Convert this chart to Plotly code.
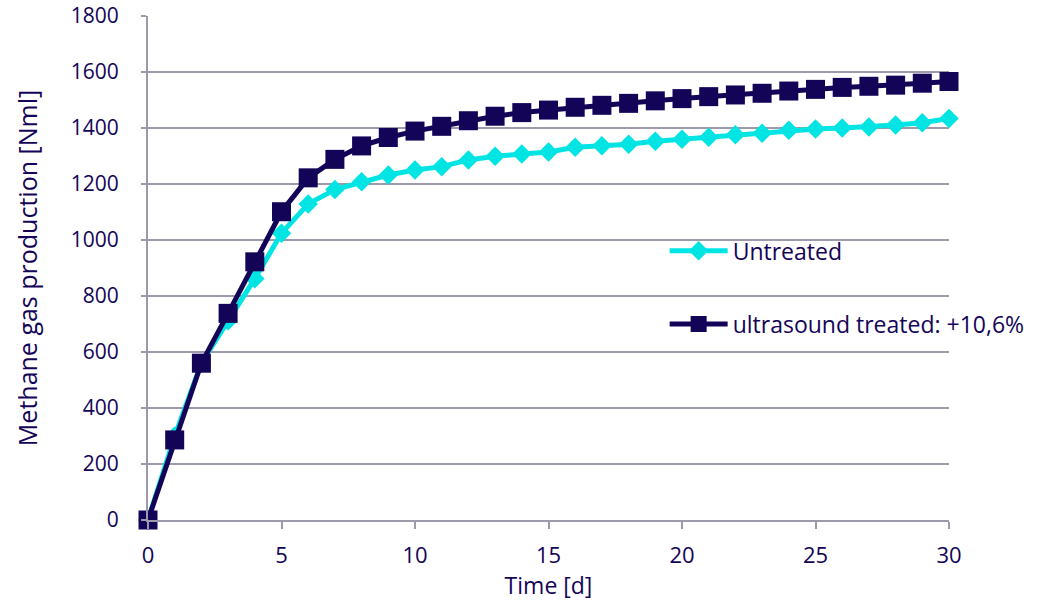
import plotly.graph_objects as go

days = list(range(0, 31))

untreated = [0, 300, 560, 712, 862, 1024, 1129, 1180, 1208, 1232, 1250,
             1262, 1286, 1299, 1307, 1314, 1331, 1337, 1342, 1353, 1360,
             1367, 1376, 1381, 1392, 1396, 1400, 1404, 1411, 1419, 1434]

treated = [0, 286, 560, 738, 922, 1101, 1222, 1288, 1336, 1366, 1389,
           1406, 1426, 1442, 1455, 1464, 1474, 1481, 1488, 1497, 1505,
           1512, 1518, 1524, 1532, 1538, 1545, 1549, 1553, 1560, 1566]

NAVY = "#130458"
CYAN = "#00e4e4"
GRID = "#9c9aac"
FONT = "Open Sans"

fig = go.Figure()

fig.add_trace(go.Scatter(
    x=days, y=untreated, name="Untreated", mode="lines+markers",
    line=dict(color=CYAN, width=5),
    marker=dict(symbol="diamond", size=15, color=CYAN),
    cliponaxis=False, legend="legend", showlegend=True,
))

fig.add_trace(go.Scatter(
    x=days, y=treated, name="ultrasound treated: +10,6%", mode="lines+markers",
    line=dict(color=NAVY, width=5),
    marker=dict(symbol="square", size=19, color=NAVY),
    cliponaxis=False, legend="legend2", showlegend=True,
))

legend_style = dict(
    x=0.645, xanchor="left", yanchor="middle",
    bgcolor="rgba(0,0,0,0)", itemwidth=58,
    font=dict(family=FONT, size=23, color=NAVY),
)

fig.update_layout(
    width=1041, height=601,
    margin=dict(l=148, r=92, t=16, b=81, autoexpand=False),
    plot_bgcolor="white", paper_bgcolor="white",
    font=dict(family=FONT, size=22, color=NAVY),
    showlegend=True,
    legend=dict(y=0.534, **legend_style),
    legend2=dict(y=0.389, **legend_style),
    xaxis=dict(
        range=[0, 30], dtick=5, showgrid=False, automargin=False,
        showline=True, linecolor=GRID, linewidth=2,
        ticks="outside", ticklen=7, tickcolor=GRID, tickwidth=2,
        ticklabelstandoff=8, tickfont=dict(size=22), ticklabeloverflow="allow",
        title=dict(text="Time [d]", standoff=8,
                   font=dict(family=FONT, size=23, color=NAVY)),
        zeroline=False,
    ),
    yaxis=dict(
        range=[0, 1800], dtick=200, showgrid=True, gridcolor=GRID, gridwidth=2,
        showline=True, linecolor=GRID, linewidth=2, automargin=False,
        ticks="outside", ticklen=5, tickcolor=GRID, tickwidth=2,
        ticklabelstandoff=18, tickfont=dict(size=21), ticklabeloverflow="allow",
        title=dict(text="Methane gas production [Nml]", standoff=26,
                   font=dict(family=FONT, size=25, color=NAVY)),
        zeroline=False,
    ),
)

# drop the default 8px body margin so the figure fills the window exactly
fig.write_html("out.html", config={"displayModeBar": False},
               post_script="document.body.style.margin = '0';")
